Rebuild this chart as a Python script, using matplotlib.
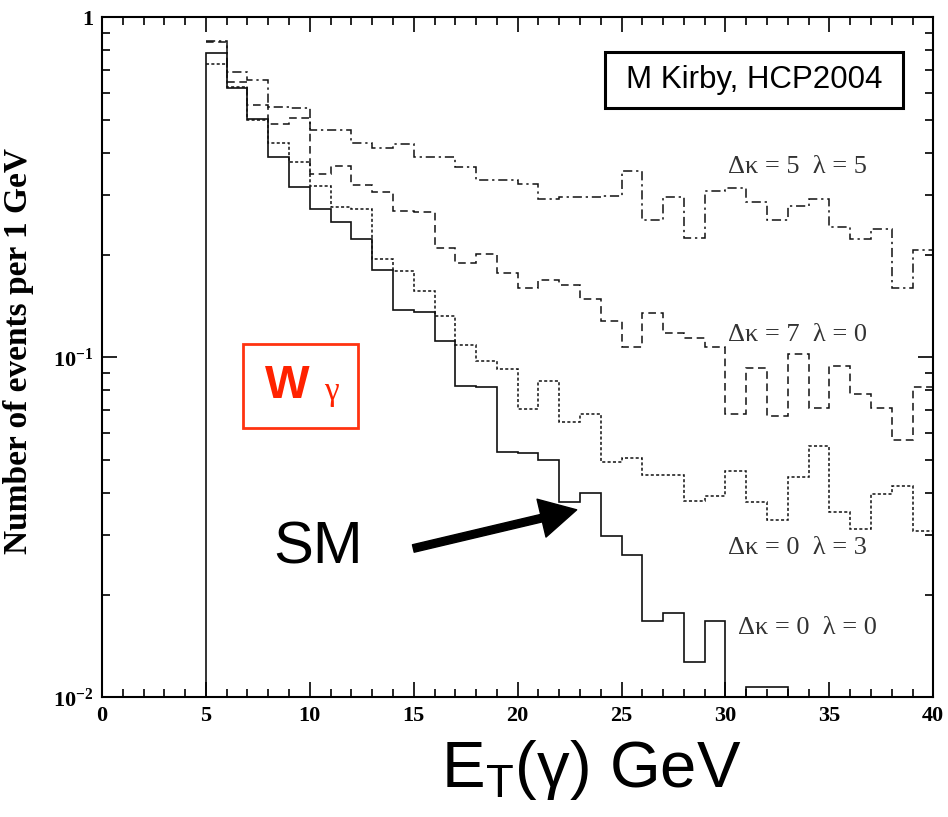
import numpy as np
import matplotlib
matplotlib.use("Agg")
import matplotlib.pyplot as plt
from matplotlib.patches import Rectangle
from matplotlib.ticker import FixedLocator, FixedFormatter, MultipleLocator, LogLocator, NullFormatter

plt.rcParams['mathtext.fontset'] = 'custom'
plt.rcParams['mathtext.rm'] = 'Liberation Serif'
plt.rcParams['mathtext.bf'] = 'Liberation Serif:bold'
plt.rcParams['mathtext.sf'] = 'Liberation Sans'

# bin edges: 1 GeV bins from 5 to 40 GeV
edges = np.arange(5, 41)

# SM  (dk=0, lambda=0)
sm = [0.784, 0.621, 0.501, 0.388, 0.317, 0.273, 0.250, 0.223, 0.181, 0.138,
      0.136, 0.112, 0.0823, 0.0816, 0.0525, 0.0522, 0.0499, 0.0375, 0.0400, 0.0299,
      0.0262, 0.0168, 0.0177, 0.0127, 0.0168, 0, 0.0107, 0.0107, 0, 0,
      0, 0, 0, 0, 0]
# dk=0, lambda=3
dk0_l3 = [0.730, 0.625, 0.499, 0.428, 0.375, 0.318, 0.276, 0.273, 0.195, 0.180,
          0.157, 0.132, 0.109, 0.0977, 0.0924, 0.0705, 0.0854, 0.0644, 0.0681, 0.0493,
          0.0504, 0.0451, 0.0451, 0.0379, 0.0392, 0.0463, 0.0375, 0.0332, 0.0445, 0.0550,
          0.0351, 0.0312, 0.0396, 0.0418, 0.0308]
# dk=7, lambda=0
dk7_l0 = [0.845, 0.644, 0.552, 0.486, 0.507, 0.345, 0.365, 0.322, 0.306, 0.269,
          0.267, 0.209, 0.189, 0.201, 0.177, 0.160, 0.169, 0.163, 0.148, 0.128,
          0.107, 0.135, 0.118, 0.114, 0.107, 0.068, 0.093, 0.067, 0.102, 0.071,
          0.094, 0.078, 0.071, 0.057, 0.082]
# dk=5, lambda=5
dk5_l5 = [0.852, 0.689, 0.654, 0.544, 0.540, 0.465, 0.465, 0.426, 0.414, 0.423,
          0.388, 0.388, 0.364, 0.332, 0.332, 0.323, 0.292, 0.297, 0.296, 0.298,
          0.354, 0.253, 0.297, 0.225, 0.308, 0.314, 0.286, 0.253, 0.279, 0.292,
          0.242, 0.223, 0.238, 0.160, 0.207]

curve_labels = ["Δκ = 5  λ = 5", "Δκ = 7  λ = 0", "Δκ = 0  λ = 3", "Δκ = 0  λ = 0"]
yticks = [0.01, 0.1, 1]
ytick_labels = [r"$\mathbf{10^{-2}}$", r"$\mathbf{10^{-1}}$", r"$\mathbf{1}$"]

fig = plt.figure(figsize=(9.48, 8.17), dpi=100)
ax = fig.add_axes([0.1076, 0.1465, 0.8769, 0.8323])
ax.set_yscale('log', nonpositive='clip')

lc = '#111111'
ax.stairs(dk5_l5, edges, baseline=None, color=lc, lw=1.1, ls=(0, (6, 2.5, 1.5, 2.5)))
ax.stairs(dk7_l0, edges, baseline=None, color=lc, lw=1.1, ls=(0, (5, 3)))
ax.stairs(dk0_l3, edges, baseline=None, color=lc, lw=1.1, ls=(0, (2, 1.5)))
ax.stairs(sm, edges, baseline=0, color=lc, lw=1.2)

ax.set_xlim(0, 40)
ax.set_ylim(0.01, 1)

ax.xaxis.set_major_locator(MultipleLocator(5))
ax.xaxis.set_minor_locator(MultipleLocator(1))
ax.yaxis.set_major_locator(FixedLocator(yticks))
ax.yaxis.set_major_formatter(FixedFormatter(ytick_labels))
ax.yaxis.set_minor_locator(LogLocator(base=10, subs=np.arange(2, 10)))
ax.yaxis.set_minor_formatter(NullFormatter())
ax.tick_params(which='both', direction='in', top=True, right=True, width=1.2)
ax.tick_params(which='major', length=11, pad=6)
ax.tick_params(axis='x', labelsize=16)
ax.tick_params(axis='y', labelsize=16)
ax.tick_params(which='minor', length=5.5)
for lab in ax.get_xticklabels():
    lab.set_fontfamily('Liberation Serif')
    lab.set_fontweight('bold')
for sp in ax.spines.values():
    sp.set_linewidth(1.5)

ax.set_ylabel("Number of events per 1 GeV", fontfamily='Liberation Serif',
              fontweight='bold', fontsize=24, labelpad=6)
ax.yaxis.set_label_coords(-0.082, 0.51)

# curve labels
lab_pos = [(0.836, 0.7805), (0.837, 0.5328), (0.836, 0.2196), (0.849, 0.1019)]
for (px, py), t in zip(lab_pos, curve_labels):
    ax.text(px, py, t, transform=ax.transAxes, ha='center', va='center',
            fontsize=19, fontfamily='Liberation Serif', color='#333333')

# author box
ax.add_patch(Rectangle((0.6053, 0.8666), 0.3586, 0.0824, transform=ax.transAxes,
                       fc='white', ec='black', lw=2.2, zorder=3))
ax.text(0.7846, 0.908, "M Kirby, HCP2004", transform=ax.transAxes, ha='center',
        va='center', fontsize=22.5, fontfamily='Liberation Sans', zorder=4)

# W gamma box
ax.add_patch(Rectangle((0.1697, 0.396), 0.1383, 0.1236, transform=ax.transAxes,
                       fill=False, ec='#ff3311', lw=2))
ax.text(0.2226, 0.458, "W", transform=ax.transAxes, ha='center', va='center',
        fontsize=34, fontweight='bold', fontfamily='Liberation Sans', color='#ff2200')
ax.text(0.2756, 0.449, "γ", transform=ax.transAxes, ha='center', va='center',
        fontsize=24, fontfamily='Liberation Serif', color='#ff2200')

# SM arrow
ax.text(0.26, 0.2196, "SM", transform=ax.transAxes, ha='center', va='center',
        fontsize=43, fontfamily='Liberation Sans')
ax.annotate('', xy=(22.84, 0.0356), xytext=(14.98, 0.0274),
            arrowprops=dict(facecolor='black', edgecolor='black', width=5.5,
                            headwidth=28, headlength=26, shrink=0))

fig.text(591 / 948, 1 - 770 / 817, r"E$_\mathsf{T}$(γ) GeV", ha='center', va='center',
         fontsize=47, fontfamily='Liberation Sans')

fig.savefig("out.png", dpi=100)
